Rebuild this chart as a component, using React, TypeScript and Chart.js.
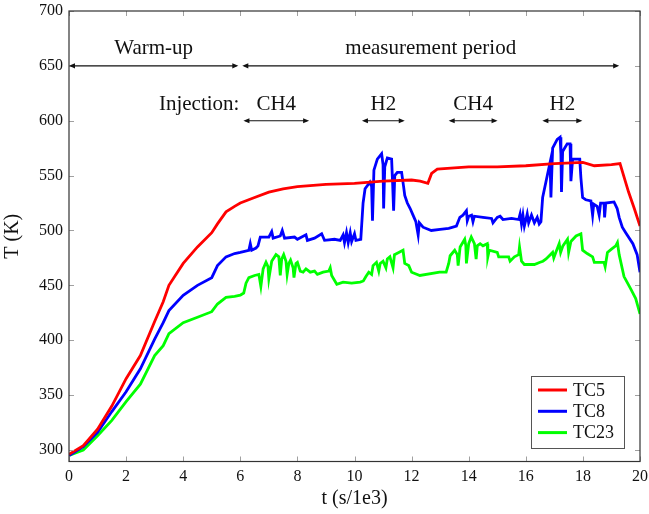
import React, { useEffect, useRef } from "react";
import { Chart, registerables } from "chart.js";

Chart.register(...registerables);

// time in 1e3 s, temperature in K
const tc5: [number, number][] = [
  [0, 296], [0.5, 304], [1, 319], [1.5, 340], [2, 365], [2.5, 386], [3, 417], [3.3, 435], [3.5, 450], [4, 470],
  [4.5, 485], [5, 498], [5.2, 506], [5.5, 517], [5.8, 522], [6, 525], [6.5, 530], [7, 535], [7.5, 538], [8, 540],
  [9, 542], [10, 543], [11, 545], [12, 546], [12.3, 545], [12.57, 543], [12.7, 552], [12.9, 556], [13.5, 557], [14, 558],
  [15, 558], [16, 559], [17, 561], [18, 562], [18.4, 559], [19, 560], [19.3, 561], [19.45, 548], [19.6, 535], [19.8, 520],
  [20, 504],
];

const tc8: [number, number][] = [
  [0, 295], [0.5, 303], [1, 316], [1.5, 335], [2, 353], [2.5, 374], [3, 401], [3.3, 416], [3.5, 427], [4, 441],
  [4.5, 450], [5, 457], [5.2, 468], [5.5, 476], [5.8, 479], [6, 480], [6.3, 482], [6.35, 488], [6.4, 482], [6.55, 484],
  [6.62, 486], [6.7, 494], [7.0, 494], [7.1, 499], [7.15, 493], [7.4, 495], [7.47, 500], [7.55, 493], [7.9, 494], [8.0, 492],
  [8.3, 496], [8.35, 491], [8.6, 493], [8.85, 497], [8.95, 491], [9.3, 492], [9.5, 491], [9.6, 496], [9.65, 489], [9.72, 498],
  [9.78, 489], [9.85, 498], [9.9, 490], [10.0, 497], [10.05, 491], [10.22, 492],
  [10.3, 525], [10.37, 538], [10.54, 544], [10.6, 540], [10.63, 509], [10.68, 555], [10.8, 565], [10.95, 570], [11.0, 560], [11.02, 520],
  [11.06, 558], [11.15, 566], [11.3, 565], [11.34, 540], [11.37, 518], [11.41, 550], [11.5, 553], [11.65, 553], [11.72, 540], [11.76, 532],
  [11.85, 525], [11.95, 520], [12.05, 514], [12.15, 508], [12.23, 496], [12.27, 507], [12.4, 503], [12.69, 500], [13.0, 501], [13.3, 502],
  [13.57, 504], [13.69, 512], [13.8, 514], [13.92, 518], [13.95, 509], [14.0, 513], [14.1, 514], [14.15, 508], [14.2, 513], [14.5, 512],
  [14.8, 511], [14.85, 507], [15.0, 512], [15.1, 513], [15.2, 510], [15.5, 511], [15.75, 510], [15.8, 515], [15.85, 506], [15.9, 514],
  [15.95, 504], [16.05, 515], [16.1, 507], [16.2, 514], [16.3, 507], [16.4, 512], [16.47, 506], [16.53, 508],
  [16.59, 530], [16.76, 551], [16.85, 562], [16.88, 530], [16.94, 575], [17.1, 583], [17.2, 585], [17.23, 570], [17.25, 535], [17.29, 572],
  [17.45, 579], [17.55, 579], [17.58, 545], [17.64, 565], [17.89, 565], [17.93, 548], [17.99, 530], [18.1, 528], [18.28, 527], [18.34, 514],
  [18.38, 524], [18.5, 522], [18.57, 514], [18.62, 525], [18.74, 525], [18.76, 512], [18.8, 525], [19.09, 526], [19.2, 520], [19.27, 512],
  [19.38, 503], [19.5, 498], [19.75, 488], [19.9, 478], [20, 462],
];

const tc23: [number, number][] = [
  [0, 295], [0.5, 300], [1, 313], [1.5, 327], [2, 344], [2.5, 360], [3, 386], [3.3, 395], [3.5, 406], [4, 416],
  [4.5, 421], [5, 426], [5.2, 433], [5.5, 439], [5.8, 440], [6, 441], [6.12, 443], [6.2, 452], [6.3, 457], [6.5, 459],
  [6.65, 460], [6.72, 449], [6.8, 465], [6.9, 471], [6.97, 467], [7.0, 456], [7.1, 472], [7.25, 478], [7.35, 476], [7.4, 459],
  [7.45, 474], [7.52, 478], [7.6, 472], [7.64, 460], [7.7, 470], [7.76, 473], [7.85, 466], [7.88, 457], [7.95, 470], [8.0, 471],
  [8.1, 463], [8.2, 462], [8.3, 465], [8.45, 462], [8.6, 463], [8.7, 460], [8.9, 462], [9.1, 463], [9.15, 466], [9.2, 459],
  [9.38, 451], [9.6, 453], [9.9, 452], [10.2, 453], [10.31, 454],
  [10.4, 458], [10.5, 462], [10.6, 460], [10.65, 468], [10.77, 471], [10.85, 463], [10.9, 470], [11.0, 472], [11.1, 466], [11.15, 474],
  [11.24, 476], [11.35, 466], [11.4, 478], [11.55, 480], [11.7, 482], [11.76, 470], [11.9, 468], [12.0, 462], [12.29, 459], [12.98, 462],
  [13.21, 462], [13.3, 470], [13.35, 477], [13.51, 482], [13.6, 478], [13.63, 468], [13.7, 485], [13.86, 492], [13.9, 486], [13.92, 470],
  [14.0, 488], [14.09, 494], [14.2, 488], [14.26, 474], [14.3, 486], [14.4, 488], [14.5, 486], [14.65, 488], [14.67, 476], [14.72, 482],
  [15.0, 480], [15.05, 476], [15.4, 476], [15.45, 472], [15.6, 476], [15.75, 478], [15.78, 485], [15.85, 472], [15.95, 469], [16.3, 469],
  [16.5, 471], [16.6, 472], [16.71, 474], [16.94, 480], [16.98, 475], [17.05, 480], [17.17, 488], [17.22, 480], [17.3, 486], [17.46, 492],
  [17.5, 480], [17.58, 490], [17.76, 495], [17.93, 497], [17.99, 482], [18.15, 479], [18.34, 476], [18.4, 471], [18.74, 471], [18.78, 467],
  [18.86, 480], [19.0, 483], [19.15, 486], [19.21, 489], [19.27, 478], [19.44, 458], [19.67, 447], [19.85, 438], [20.0, 424],
];

const seriesNames = ["TC5", "TC8", "TC23"];
const seriesColors = ["#ff0000", "#0000ff", "#00ff00"];

const xTickValues = [0, 2, 4, 6, 8, 10, 12, 14, 16, 18, 20];
const yTickValues = [300, 350, 400, 450, 500, 550, 600, 650, 700];

// phase annotations (arrow at y = 650 K)
const phaseLabels = ["Warm-up", "measurement period"];
const phaseStart = [0, 6.07];
const phaseEnd = [5.93, 19.27];
const phaseLevel = 650;
const phaseTextLevel = 666;

// injection annotations (arrow at y = 600 K)
const injectionTitle = "Injection:";
const injectionLabels = ["CH4", "H2", "CH4", "H2"];
const injectionStart = [6.11, 10.26, 13.3, 16.58];
const injectionEnd = [8.41, 11.76, 15.01, 17.98];
const injectionLevel = 600;
const injectionTextLevel = 615;

const SERIF = "'Liberation Serif', 'DejaVu Serif', serif";

function drawArrow(ctx: CanvasRenderingContext2D, x1: number, x2: number, y: number) {
  const h = 6, w = 2.6;
  ctx.beginPath();
  ctx.moveTo(x1 + 2, y);
  ctx.lineTo(x2 - 2, y);
  ctx.stroke();
  ctx.beginPath();
  ctx.moveTo(x1, y);
  ctx.lineTo(x1 + h, y - w);
  ctx.lineTo(x1 + h, y + w);
  ctx.closePath();
  ctx.fill();
  ctx.beginPath();
  ctx.moveTo(x2, y);
  ctx.lineTo(x2 - h, y - w);
  ctx.lineTo(x2 - h, y + w);
  ctx.closePath();
  ctx.fill();
}

const overlayPlugin = {
  id: "overlay",
  afterDraw(chart: any) {
    const { ctx, chartArea: a, scales } = chart;
    const xs = scales.x;
    const ys = scales.y;
    ctx.save();
    // inner ticks on all four sides
    ctx.strokeStyle = "#a0a0a0";
    ctx.lineWidth = 1;
    const tl = 5;
    for (const v of xTickValues) {
      const px = Math.round(xs.getPixelForValue(v)) + 0.5;
      ctx.beginPath();
      ctx.moveTo(px, a.bottom);
      ctx.lineTo(px, a.bottom - tl);
      ctx.moveTo(px, a.top);
      ctx.lineTo(px, a.top + tl);
      ctx.stroke();
    }
    for (const v of yTickValues) {
      const py = Math.round(ys.getPixelForValue(v)) + 0.5;
      ctx.beginPath();
      ctx.moveTo(a.left, py);
      ctx.lineTo(a.left + tl, py);
      ctx.moveTo(a.right, py);
      ctx.lineTo(a.right - tl, py);
      ctx.stroke();
    }
    // frame
    ctx.strokeStyle = "#333";
    ctx.lineWidth = 1.2;
    ctx.strokeRect(a.left, a.top, a.width, a.height);

    // annotations
    ctx.fillStyle = "#111";
    ctx.strokeStyle = "#111";
    ctx.lineWidth = 1.2;
    ctx.font = `21px ${SERIF}`;
    ctx.textAlign = "center";
    ctx.textBaseline = "middle";
    for (let i = 0; i < phaseLabels.length; i++) {
      const x1 = xs.getPixelForValue(phaseStart[i]);
      const x2 = xs.getPixelForValue(phaseEnd[i]);
      const y = ys.getPixelForValue(phaseLevel);
      drawArrow(ctx, x1, x2, y);
      ctx.fillText(phaseLabels[i], (x1 + x2) / 2, ys.getPixelForValue(phaseTextLevel));
    }
    for (let i = 0; i < injectionLabels.length; i++) {
      const x1 = xs.getPixelForValue(injectionStart[i]);
      const x2 = xs.getPixelForValue(injectionEnd[i]);
      const y = ys.getPixelForValue(injectionLevel);
      drawArrow(ctx, x1, x2, y);
      ctx.fillText(injectionLabels[i], (x1 + x2) / 2, ys.getPixelForValue(injectionTextLevel));
    }
    ctx.textAlign = "right";
    ctx.fillText(injectionTitle, xs.getPixelForValue(injectionStart[0]) - 4, ys.getPixelForValue(injectionTextLevel));

    // legend box (bottom-right inside the axes)
    const bw = 93, bh = 72;
    const bx = a.right - 16 - bw;
    const by = a.bottom - 13.5 - bh;
    ctx.fillStyle = "#fff";
    ctx.fillRect(bx, by, bw, bh);
    ctx.strokeStyle = "#555";
    ctx.lineWidth = 1;
    ctx.strokeRect(bx + 0.5, by + 0.5, bw, bh);
    ctx.font = `18px ${SERIF}`;
    ctx.textAlign = "left";
    for (let i = 0; i < seriesNames.length; i++) {
      const ry = by + 14 + i * 21.3;
      ctx.strokeStyle = seriesColors[i];
      ctx.lineWidth = 3;
      ctx.beginPath();
      ctx.moveTo(bx + 7, ry);
      ctx.lineTo(bx + 36, ry);
      ctx.stroke();
      ctx.fillStyle = "#111";
      ctx.fillText(seriesNames[i], bx + 42, ry + 1);
    }
    ctx.restore();
  },
};

export default function App() {
  const ref = useRef<HTMLCanvasElement | null>(null);
  useEffect(() => {
    if (!ref.current) return;
    const series = [tc5, tc8, tc23];
    const chart = new Chart(ref.current, {
      type: "line",
      data: {
        datasets: series.map((s, i) => ({
          label: seriesNames[i],
          data: s.map(([t, k]) => ({ x: t, y: k })),
          borderColor: seriesColors[i],
          backgroundColor: seriesColors[i],
          borderWidth: 2.8,
          pointRadius: 0,
          tension: 0,
          fill: false,
        })),
      },
      options: {
        animation: false,
        responsive: false,
        devicePixelRatio: 1,
        layout: { padding: { left: 0, top: 11, right: 9, bottom: 0 } },
        plugins: { legend: { display: false }, tooltip: { enabled: false } },
        scales: {
          x: {
            type: "linear",
            min: 0,
            max: 20,
            afterBuildTicks: (s: any) => {
              s.ticks = xTickValues.map((v) => ({ value: v }));
            },
            afterFit: (s: any) => {
              s.height = 52.5;
              s.paddingLeft = 0;
              s.paddingRight = 0;
            },
            grid: { display: false, drawTicks: false },
            border: { display: false },
            ticks: { color: "#111", font: { family: SERIF, size: 16 }, padding: 6, maxRotation: 0 },
            title: {
              display: true,
              text: "t (s/1e3)",
              color: "#111",
              font: { family: SERIF, size: 20 },
              padding: { top: 0, bottom: 3 },
            },
          },
          y: {
            type: "linear",
            min: 289.5,
            max: 700,
            afterBuildTicks: (s: any) => {
              s.ticks = yTickValues.map((v) => ({ value: v }));
            },
            afterFit: (s: any) => {
              s.width = 69;
              s.paddingTop = 0;
              s.paddingBottom = 0;
            },
            grid: { display: false, drawTicks: false },
            border: { display: false },
            ticks: { color: "#111", font: { family: SERIF, size: 16 }, padding: 6 },
            title: {
              display: true,
              text: "T (K)",
              color: "#111",
              font: { family: SERIF, size: 20 },
              padding: { top: 1, bottom: 0 },
            },
          },
        },
      },
      plugins: [overlayPlugin],
    } as any);
    return () => chart.destroy();
  }, []);
  return (
    <div style={{ position: "fixed", left: 0, top: 0, width: 649, height: 514, background: "#fff" }}>
      <canvas ref={ref} width={649} height={514} style={{ display: "block" }} />
    </div>
  );
}
